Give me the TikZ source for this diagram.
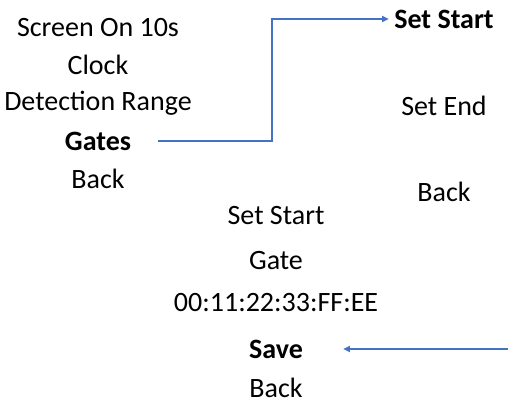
\documentclass[tikz,border=0pt]{standalone}
\usepackage{fontspec}
\setmainfont{Carlito}
\definecolor{menublue}{RGB}{68, 114, 196}
\usetikzlibrary{arrows.meta, positioning}

\begin{document}
\begin{tikzpicture}[x=0.75pt, y=-0.75pt,
  item/.style={font=\fontsize{21}{25}\selectfont, inner sep=0pt, anchor=center},
  sel/.style={item, font=\fontsize{21}{25}\selectfont\bfseries},
  link/.style={line width=1.7pt, menublue, -{Triangle[length=5pt, width=4.5pt]}}]
  \useasboundingbox (0, 0) rectangle (508, 401);

  % main menu
  \node[item] (screen) at (98, 28) {Screen On 10s};
  \node[item] (clock) at (98, 65) {Clock};
  \node[item] (range) at (98, 103) {Detection Range};
  \node[sel] (gates) at (98, 141) {Gates};
  \node[item] (back1) at (98, 179) {Back};

  % gates menu
  \node[sel] (start) at (444, 19) {Set Start};
  \node[item] (end) at (444, 106) {Set End};
  \node[item] (back2) at (444, 192) {Back};

  % set start menu
  \node[item] (title) at (276, 216) {Set Start};
  \node[item] (gate) at (276, 261) {Gate};
  \node[item] (mac) at (276, 303) {00:11:22:33:FF:EE};
  \node[sel] (save) at (276, 349) {Save};
  \node[item] (back3) at (276, 388) {Back};

  \coordinate (savein) at (508, 349);

  \draw[link] ([xshift=20pt]gates.east) -| (272, 19) -- ([xshift=-4pt]start.west);
  \draw[link] (savein) -- ([xshift=30pt]save.east);
\end{tikzpicture}
\end{document}
